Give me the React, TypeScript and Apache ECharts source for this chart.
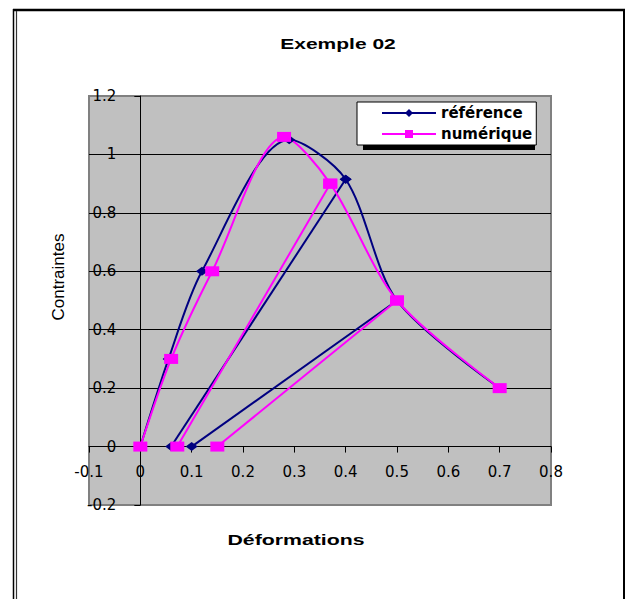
import React, { useEffect, useRef } from "react";
import * as echarts from "echarts";

// ---- Data ----
const xTickLabels = ["-0.1", "0", "0.1", "0.2", "0.3", "0.4", "0.5", "0.6", "0.7", "0.8"];
const yTickLabels = ["-0.2", "0", "0.2", "0.4", "0.6", "0.8", "1", "1.2"];

// "référence": loading envelope (déformation, contrainte)
const refStrain = [0, 0.055, 0.12, 0.29, 0.4, 0.5, 0.7];
const refStress = [0, 0.3, 0.6, 1.05, 0.915, 0.5, 0.2];
// unloading / reloading cycles: start index on the envelope and residual strain
const refUnloadFrom = [4, 5];
const refResidual = [0.06, 0.1];

// "numérique": loading envelope
const numStrain = [0, 0.06, 0.14, 0.28, 0.37, 0.5, 0.7];
const numStress = [0, 0.3, 0.6, 1.06, 0.9, 0.5, 0.2];
const numUnloadFrom = [4, 5];
const numResidual = [0.072, 0.15];

const NAVY = "#000080";
const PINK = "#FF00FF";

// layout of the plot (pixels)
const GRID_LEFT = 89;
const GRID_TOP = 96;
const GRID_W = 462;
const GRID_H = 409;
const X_MIN = -0.1;
const X_MAX = 0.8;
const Y_MIN = -0.2;
const Y_MAX = 1.2;
// shift of each axis so that it crosses the other one at zero
const Y_AXIS_SHIFT = (GRID_W * (0 - X_MIN)) / (X_MAX - X_MIN);
const X_AXIS_SHIFT = (GRID_H * (0 - Y_MIN)) / (Y_MAX - Y_MIN);

const fmt = (v: number) => String(Math.round(v * 10) / 10);

function buildSeries(
  name: string,
  color: string,
  symbol: string,
  symbolSize: number[],
  strain: number[],
  stress: number[],
  from: number[],
  residual: number[]
) {
  const common = {
    type: "line",
    name,
    symbol,
    symbolSize,
    showSymbol: true,
    lineStyle: { color, width: 2 },
    itemStyle: { color, borderWidth: 0 },
    emphasis: { disabled: true },
  };
  const envelope = {
    ...common,
    smooth: 0.3,
    data: strain.map((x, i) => [x, stress[i]]),
  };
  const cycles = from.map((idx, k) => ({
    ...common,
    smooth: false,
    data: [
      [strain[idx], stress[idx]],
      [residual[k], 0],
    ],
  }));
  return [envelope, ...cycles];
}

export default function App() {
  const ref = useRef<HTMLDivElement>(null);

  useEffect(() => {
    if (!ref.current) return;
    const chart = echarts.init(ref.current, null, { renderer: "svg" });

    const series = [
      ...buildSeries("référence", NAVY, "diamond", [12, 9], refStrain, refStress, refUnloadFrom, refResidual),
      ...buildSeries("numérique", PINK, "rect", [14, 10], numStrain, numStress, numUnloadFrom, numResidual),
    ];

    const option: any = {
      animation: false,
      backgroundColor: "#ffffff",
      grid: {
        left: GRID_LEFT,
        top: GRID_TOP,
        width: GRID_W,
        height: GRID_H,
        show: true,
        backgroundColor: "#C0C0C0",
        borderColor: "#808080",
        borderWidth: 2,
        containLabel: false,
      },
      xAxis: {
        type: "value",
        position: "bottom",
        offset: -X_AXIS_SHIFT,
        min: X_MIN,
        max: X_MAX,
        interval: 0.1,
        axisLine: { show: true, onZero: false, lineStyle: { color: "#000", width: 1 } },
        axisTick: { show: true, inside: false, length: 6, lineStyle: { color: "#000" } },
        axisLabel: {
          show: true,
          margin: 18,
          color: "#000",
          fontFamily: "DejaVu Sans",
          fontSize: 15,
          showMinLabel: true,
          showMaxLabel: true,
          formatter: (v: number) => {
            const s = fmt(v);
            return xTickLabels.includes(s) ? s : "";
          },
        },
        splitLine: { show: false },
      },
      yAxis: {
        type: "value",
        position: "left",
        offset: -Y_AXIS_SHIFT,
        min: Y_MIN,
        max: Y_MAX,
        interval: 0.2,
        axisLine: { show: true, onZero: false, lineStyle: { color: "#000", width: 1 } },
        axisTick: { show: true, inside: false, length: 6, lineStyle: { color: "#000" } },
        axisLabel: {
          show: true,
          margin: 24,
          color: "#000",
          fontFamily: "DejaVu Sans",
          fontSize: 15,
          showMinLabel: true,
          showMaxLabel: true,
          formatter: (v: number) => {
            const s = fmt(v);
            return yTickLabels.includes(s) ? s : "";
          },
        },
        splitLine: {
          show: true,
          showMinLine: false,
          showMaxLine: false,
          lineStyle: { color: "#000", width: 1 },
        },
      },
      legend: {
        show: true,
        orient: "vertical",
        left: 357,
        top: 102,
        width: 150,
        padding: [3, 4, 3, 24],
        itemGap: 5,
        itemWidth: 54,
        itemHeight: 10,
        backgroundColor: "#ffffff",
        borderColor: "#000000",
        borderWidth: 1,
        borderRadius: 0,
        selectedMode: false,
        textStyle: {
          color: "#000",
          fontFamily: "DejaVu Sans",
          fontWeight: "bold",
          fontSize: 15,
          lineHeight: 16,
        },
        data: [{ name: "référence" }, { name: "numérique" }],
      },
      graphic: [
        // legend shadow
        {
          type: "rect",
          z: 3,
          shape: { x: 363, y: 107, width: 172, height: 43 },
          style: { fill: "#000" },
        },
        // outer frame
        { type: "line", z: 10, shape: { x1: 13, y1: 10, x2: 625, y2: 10 }, style: { stroke: "#000", lineWidth: 2.5 } },
        { type: "line", z: 10, shape: { x1: 624, y1: 10, x2: 624, y2: 599 }, style: { stroke: "#000", lineWidth: 2 } },
        { type: "line", z: 10, shape: { x1: 13.5, y1: 9, x2: 13.5, y2: 599 }, style: { stroke: "#000", lineWidth: 1.5 } },
        { type: "line", z: 10, shape: { x1: 16.5, y1: 11, x2: 16.5, y2: 599 }, style: { stroke: "#333", lineWidth: 1.2 } },
        // title
        {
          type: "text",
          z: 10,
          x: 338,
          y: 44,
          scaleX: 1.5,
          style: {
            text: "Exemple 02",
            fontFamily: "Liberation Sans",
            fontWeight: "bold",
            fontSize: 14,
            fill: "#000",
            textAlign: "center",
            textVerticalAlign: "middle",
          },
        },
        // x axis title
        {
          type: "text",
          z: 10,
          x: 296,
          y: 540,
          scaleX: 1.52,
          style: {
            text: "Déformations",
            fontFamily: "Liberation Sans",
            fontWeight: "bold",
            fontSize: 14,
            fill: "#000",
            textAlign: "center",
            textVerticalAlign: "middle",
          },
        },
        // y axis title
        {
          type: "text",
          z: 10,
          x: 58,
          y: 277,
          rotation: Math.PI / 2,
          style: {
            text: "Contraintes",
            fontFamily: "Liberation Sans",
            fontSize: 17,
            fill: "#000",
            textAlign: "center",
            textVerticalAlign: "middle",
          },
        },
      ],
      series,
    };

    chart.setOption(option);
    return () => chart.dispose();
  }, []);

  return (
    <div
      ref={ref}
      style={{ position: "absolute", left: 0, top: 0, width: 630, height: 599 }}
    />
  );
}
